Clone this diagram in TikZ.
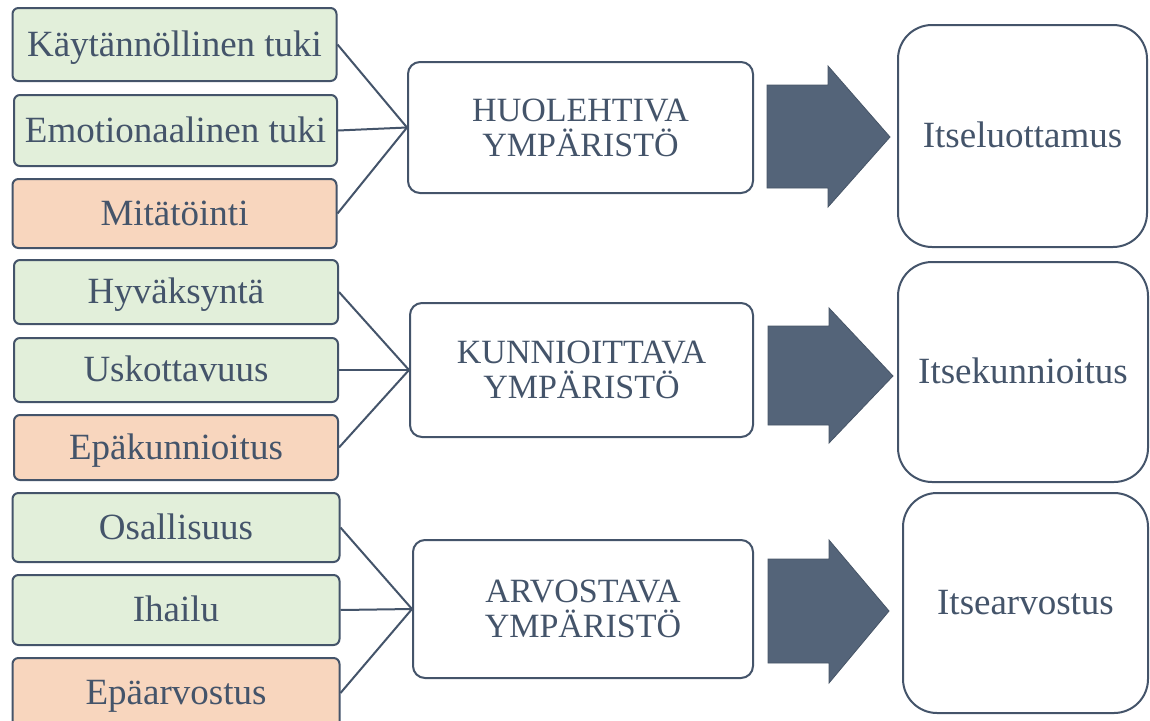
\documentclass[tikz,border=0pt]{standalone}
\usepackage{fontspec}
\setmainfont{Liberation Serif}
\definecolor{txt}{HTML}{44546A}
\definecolor{grn}{HTML}{E2EFDA}
\definecolor{pch}{HTML}{F8D6BE}
\definecolor{arr}{HTML}{546479}
\begin{document}
\begin{tikzpicture}[x=1pt,y=-1pt,
  base/.style={draw=txt, line width=2pt, text=txt, align=center, inner sep=0pt},
  leftbox/.style={base, rounded corners=6pt, font=\fontsize{37}{40}\selectfont, text height=30pt, text depth=7pt},
  good/.style={leftbox, fill=grn},
  bad/.style={leftbox, fill=pch},
  envbox/.style={base, fill=white, rounded corners=12pt, font=\fontsize{34}{35}\selectfont},
  resbox/.style={base, fill=white, rounded corners=34pt, font=\fontsize{37}{40}\selectfont, text height=30pt, text depth=7pt},
  link/.style={draw=txt, line width=2pt},
  bigarrow/.style={fill=arr, draw=arr!85!black, line width=0.8pt, line join=miter}]
\useasboundingbox (0,0) rectangle (1150,720);
\clip (0,0) rectangle (1150,720);
\fill[white] (0,0) rectangle (1150,720);

% left boxes, group 1
\node[good, minimum width=324pt, minimum height=73pt] (a1) at (174.5,44.5) {Käytännöllinen tuki};
\node[good, minimum width=323pt, minimum height=71pt] (a2) at (175.5,130.5) {Emotionaalinen tuki};
\node[bad,  minimum width=324pt, minimum height=69pt] (a3) at (174.5,213.5) {Mitätöinti};
% group 2
\node[good, minimum width=324pt, minimum height=64pt] (b1) at (176,292) {Hyväksyntä};
\node[good, minimum width=324pt, minimum height=64pt] (b2) at (176,370) {Uskottavuus};
\node[bad,  minimum width=324pt, minimum height=65pt] (b3) at (176,447.5) {Epäkunnioitus};
% group 3
\node[good, minimum width=327pt, minimum height=69pt] (c1) at (176,527.5) {Osallisuus};
\node[good, minimum width=327pt, minimum height=70pt] (c2) at (176,610) {Ihailu};
\node[bad,  minimum width=327pt, minimum height=70pt] (c3) at (176,693) {Epäarvostus};

% middle boxes
\node[envbox, minimum width=345pt, minimum height=131pt] (m1) at (580.5,127.5) {HUOLEHTIVA\\YMPÄRISTÖ};
\node[envbox, minimum width=343pt, minimum height=134pt] (m2) at (581.5,370) {KUNNIOITTAVA\\YMPÄRISTÖ};
\node[envbox, minimum width=340pt, minimum height=138pt] (m3) at (583,609) {ARVOSTAVA\\YMPÄRISTÖ};

% right boxes
\node[resbox, minimum width=249pt, minimum height=222pt] (r1) at (1022.5,136) {Itseluottamus};
\node[resbox, minimum width=250pt, minimum height=220pt] (r2) at (1023,372) {Itsekunnioitus};
\node[resbox, minimum width=245pt, minimum height=220pt] (r3) at (1025.5,603) {Itsearvostus};

% connectors
\foreach \g/\m in {a/m1,b/m2,c/m3}{
  \foreach \i in {1,2,3}{
    \draw[link] (\g\i.east) -- (\m.west);
  }
}

% big arrows
\draw[bigarrow] (767,85) -- (828,85) -- (828,66) -- (890,137) -- (828,207) -- (828,188) -- (767,188) -- cycle;
\draw[bigarrow] (768,326) -- (829,326) -- (829,308) -- (893,376) -- (829,443) -- (829,425) -- (768,425) -- cycle;
\draw[bigarrow] (768,559) -- (829,559) -- (829,540) -- (889,611) -- (829,683) -- (829,663) -- (768,663) -- cycle;
\end{tikzpicture}
\end{document}
